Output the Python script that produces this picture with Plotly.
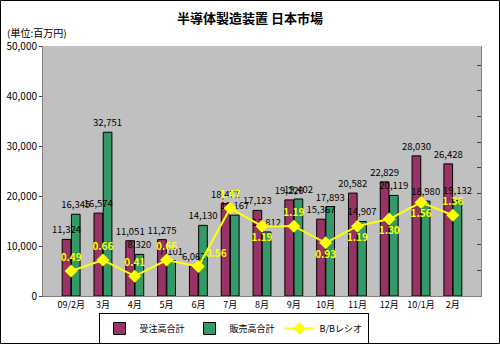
import plotly.graph_objects as go

months = ["09/2月", "3月", "4月", "5月", "6月", "7月", "8月", "9月", "10月", "11月", "12月", "10/1月", "2月"]
orders = [11324, 16574, 11051, 11275, 6062, 18471, 17123, 19220, 15367, 20582, 22829, 28030, 26428]
sales = [16345, 32751, 8320, 7101, 14130, 16167, 12812, 19402, 17893, 14907, 20119, 18980, 19132]
bb_ratio = [0.49, 0.66, 0.41, 0.66, 0.56, 1.47, 1.19, 1.19, 0.93, 1.19, 1.30, 1.56, 1.36]
ratio_label_pos = ["top center", "top center", "top center", "top center", "top right",
                   "top center", "bottom center", "top center", "bottom center",
                   "bottom center", "bottom center", "bottom center", "top center"]

FONT = "Noto Sans CJK JP"

fig = go.Figure()
# visible bars
for name, vals, col in [("受注高合計", orders, "#993366"), ("販売高合計", sales, "#339966")]:
    fig.add_trace(go.Bar(
        x=months, y=vals, name=name,
        marker=dict(color=col, line=dict(color="black", width=1)),
    ))
# value labels drawn above all bars (transparent bars on an overlaid axis)
for vals in (orders, sales):
    fig.add_trace(go.Bar(
        x=months, y=vals, yaxis="y2", showlegend=False, hoverinfo="skip",
        marker=dict(color="rgba(0,0,0,0)", line=dict(width=0)),
        texttemplate="%{y:,}", textposition="outside", constraintext="none",
        textfont=dict(family=FONT, size=9.5, color="black"), cliponaxis=False,
    ))
fig.add_trace(go.Scatter(
    x=months, y=bb_ratio, name="B/Bレシオ", yaxis="y3",
    mode="lines+markers+text",
    line=dict(color="#FFFF00", width=2),
    marker=dict(symbol="diamond", size=10, color="#FFFF00"),
    texttemplate="%{y:.2f}", textposition=ratio_label_pos,
    textfont=dict(family=FONT, size=10, color="#FFFF00", weight="bold"),
    cliponaxis=False,
))

L, R, T, B = 43, 19, 46, 48
W, H = 500, 344
pw, ph = W - L - R, H - T - B

fig.update_layout(
    width=W, height=H,
    margin=dict(l=L, r=R, t=T, b=B, autoexpand=False),
    paper_bgcolor="white",
    plot_bgcolor="#C0C0C0",
    font=dict(family=FONT, size=10, color="black"),
    barmode="group", bargap=0.42, bargroupgap=0.06,
    title=dict(text="<b>半導体製造装置 日本市場</b>", x=0.5, xanchor="center",
               y=1 - 18 / H, yanchor="middle", font=dict(family=FONT, size=13, color="black")),
    xaxis=dict(type="category", showline=True, linecolor="#808080", ticks="",
               tickfont=dict(family=FONT, size=9), showgrid=False),
    yaxis=dict(range=[0, 50000], dtick=10000, tickformat=",", showgrid=False,
               showline=True, linecolor="#808080", ticks="outside", ticklen=3,
               tickcolor="#404040", tickfont=dict(family=FONT, size=10), zeroline=False),
    yaxis2=dict(overlaying="y", range=[0, 50000], visible=False),
    yaxis3=dict(overlaying="y", side="right", range=[0.1, 4.0], tick0=0.1, dtick=0.4,
                showticklabels=False, ticks="inside", ticklen=4, tickcolor="#404040",
                showline=True, linecolor="#808080", showgrid=False, zeroline=False),
    legend=dict(orientation="h", x=0.435, xanchor="center", y=-(313 - (H - B)) / ph,
                yanchor="top",
                bordercolor="black", borderwidth=1, bgcolor="white",
                font=dict(family=FONT, size=9), itemwidth=30, tracegroupgap=0),
    annotations=[dict(text="(単位:百万円)", xref="paper", yref="paper",
                      x=-(L - 5) / pw, y=(H - B - 33) / ph,
                      xanchor="left", yanchor="middle", showarrow=False,
                      font=dict(family=FONT, size=10))],
    shapes=[dict(type="rect", xref="paper", yref="paper",
                 x0=-(L - 0.5) / pw, x1=1 + (R - 0.5) / pw,
                 y0=-(B - 0.5) / ph, y1=1 + (T - 0.5) / ph,
                 line=dict(color="black", width=1), layer="above")],
)

fig.write_html("out.html")
